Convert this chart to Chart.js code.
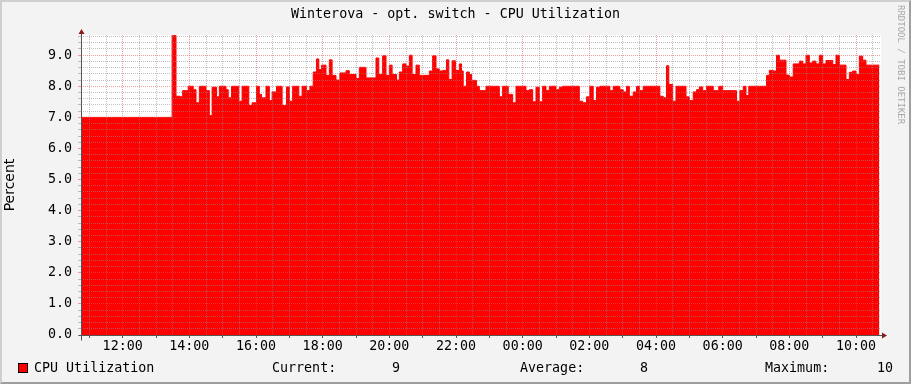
<!DOCTYPE html>
<html>
<head>
<meta charset="utf-8">
<script src="https://cdn.jsdelivr.net/npm/chart.js@4.4.1/dist/chart.umd.min.js"></script>
<style>
  html, body { margin: 0; padding: 0; background: #f3f3f3; }
  #wrap { position: relative; width: 911px; height: 384px; overflow: hidden; }
  #frame { position: absolute; left: 0; top: 0; width: 911px; height: 384px; box-sizing: border-box;
           border-top: 2px solid #cfcfcf; border-left: 2px solid #cfcfcf;
           border-right: 2px solid #9e9e9e; border-bottom: 2px solid #9e9e9e; }
  #chart { position: absolute; left: 0; top: 0; }
  #title { position: absolute; left: 0; top: 6px; width: 911px; text-align: center;
           font: 13.33px/16px "DejaVu Sans Mono", monospace; color: #000; white-space: pre; }
  .lg { position: absolute; top: 360px; font: 13.33px/16px "DejaVu Sans Mono", monospace; color: #000; white-space: pre; }
  #swatch { position: absolute; left: 18px; top: 363px; width: 8px; height: 8px; background: #ff0000; border: 1px solid #000; }
  #mark { position: absolute; left: 896px; top: 5px; writing-mode: vertical-rl; font: 9px "DejaVu Sans Mono", monospace; color: #a8a8a8; }
</style>
</head>
<body>
<div id="wrap">
  <div id="frame"></div>
  <canvas id="chart" width="911" height="384"></canvas>
  <div id="title">Winterova - opt. switch - CPU Utilization</div>
  <div id="swatch"></div>
  <div class="lg" style="left:34px">CPU Utilization</div>
  <div class="lg" style="left:272px">Current:</div>
  <div class="lg" id="cur" style="left:392px"></div>
  <div class="lg" style="left:520px">Average:</div>
  <div class="lg" id="avg" style="left:640px"></div>
  <div class="lg" style="left:765px">Maximum:</div>
  <div class="lg" id="max" style="left:877px"></div>
  <div id="mark">RRDTOOL / TOBI OETIKER</div>
</div>
<script>
// graph starts at 10:45, one day wide; times are minutes from start
var startClock = 10 * 60 + 45;
var spanMinutes = 1440;

// minute (from start) at which each new value begins
var times = [
	0, 164, 171, 178, 183, 193, 202, 207, 213, 225, 231, 236, 244, 249, 261, 265, 271, 284, 290, 302,
	308, 316, 321, 325, 333, 339, 344, 352, 362, 370, 375, 381, 392, 398, 406, 412, 418, 424, 428, 433,
	441, 447, 452, 459, 466, 477, 483, 495, 501, 513, 531, 536, 543, 549, 555, 560, 568, 573, 579, 585,
	591, 596, 603, 609, 627, 633, 639, 645, 651, 658, 662, 668, 674, 681, 685, 688, 694, 699, 703, 712,
	717, 729, 753, 759, 769, 777, 783, 801, 807, 813, 819, 825, 831, 837, 843, 855, 861, 867, 897, 903,
	910, 916, 922, 928, 934, 952, 958, 970, 976, 982, 987, 994, 1000, 1005, 1012, 1042, 1048, 1054, 1058, 1065,
	1071, 1089, 1095, 1102, 1108, 1113, 1119, 1126, 1138, 1148, 1155, 1180, 1186, 1192, 1197, 1202, 1234, 1239, 1246, 1252,
	1257, 1269, 1275, 1282, 1293, 1299, 1305, 1311, 1317, 1323, 1329, 1335, 1341, 1353, 1359, 1365, 1377, 1383, 1389, 1395,
	1401, 1407, 1413, 1437
];

// CPU utilization in percent
var cpu = [
	7.00, 9.64, 7.68, 7.66, 7.86, 8.00, 7.89, 7.47, 8.00, 7.86, 7.06, 7.97, 7.66, 8.00, 7.89, 7.63, 8.00, 7.52, 8.00, 7.38,
	7.47, 8.00, 7.74, 7.63, 8.00, 7.54, 7.82, 8.00, 7.38, 7.98, 7.52, 8.00, 7.68, 8.00, 7.86, 8.00, 8.46, 8.88, 8.54, 8.68,
	8.35, 8.85, 8.35, 8.20, 8.43, 8.50, 8.38, 8.25, 8.61, 8.27, 8.91, 8.38, 8.98, 8.35, 8.68, 8.38, 8.20, 8.46, 8.72, 8.65,
	9.00, 8.38, 8.68, 8.35, 8.49, 8.98, 8.56, 8.49, 8.51, 8.85, 8.22, 8.82, 8.51, 8.72, 8.49, 8.00, 8.46, 8.38, 8.19, 8.00,
	7.86, 8.00, 7.66, 8.00, 7.74, 7.47, 8.00, 7.86, 7.89, 7.50, 7.97, 7.50, 8.00, 7.86, 8.00, 7.89, 7.97, 8.00, 7.52, 7.47,
	7.66, 8.00, 7.54, 7.97, 8.00, 7.86, 8.00, 7.89, 7.82, 8.00, 7.68, 7.82, 8.00, 7.86, 8.00, 7.68, 7.63, 8.66, 8.06, 7.52,
	8.00, 7.66, 7.54, 7.82, 7.89, 7.98, 7.86, 8.00, 7.86, 8.00, 7.86, 7.52, 7.86, 8.00, 7.70, 8.00, 8.35, 8.51, 8.49, 9.00,
	8.84, 8.36, 8.30, 8.72, 8.81, 8.72, 9.00, 8.75, 8.81, 8.72, 9.00, 8.72, 8.83, 8.70, 9.00, 8.68, 8.22, 8.45, 8.49, 8.38,
	8.97, 8.84, 8.68, 8.68
];

var yMax = 9.65;

var MINOR = 'rgba(140,140,140,0.55)';
var MAJOR = 'rgba(225,80,80,0.55)';
var AXIS = '#555555';
var ARROW = '#8b1a1a';
var FONT = 'DejaVu Sans Mono';

// legend numbers
var area = 0;
for (var i = 0; i < times.length - 1; i++) area += cpu[i] * (times[i + 1] - times[i]);
document.getElementById('cur').textContent = cpu[cpu.length - 1].toFixed(0);
document.getElementById('avg').textContent = (area / (times[times.length - 1] - times[0])).toFixed(0);
document.getElementById('max').textContent = Math.max.apply(null, cpu).toFixed(0);

var xGrid = [];
for (var t = 15; t <= spanMinutes; t += 30) xGrid.push(t);
var yGrid = [];
for (var k = 0; k * 0.2 <= yMax; k++) yGrid.push(Math.round(k * 2) / 10);

function isHour2(v) { return (startClock + v) % 120 === 0; }
function isHour(v) { return (startClock + v) % 60 === 0; }
function isWhole(v) { return Math.abs(v - Math.round(v)) < 1e-6; }

var canvasBg = {
	id: 'canvasBg',
	beforeDraw: function(chart) {
		var a = chart.chartArea, ctx = chart.ctx;
		ctx.save();
		ctx.fillStyle = '#ffffff';
		ctx.fillRect(a.left, a.top, a.right - a.left, a.bottom - a.top);
		ctx.restore();
	}
};

var axes = {
	id: 'axes',
	afterDraw: function(chart) {
		var a = chart.chartArea, ctx = chart.ctx;
		var x0 = Math.round(a.left) + 0.5, y0 = Math.round(a.bottom) + 0.5;
		ctx.save();
		ctx.strokeStyle = AXIS;
		ctx.lineWidth = 1;
		ctx.beginPath();
		ctx.moveTo(x0, y0 + 5);
		ctx.lineTo(x0, a.top - 3);
		ctx.moveTo(x0 - 3, y0);
		ctx.lineTo(a.right + 3, y0);
		ctx.stroke();
		ctx.fillStyle = ARROW;
		ctx.beginPath();
		ctx.moveTo(x0 - 3, a.top - 1);
		ctx.lineTo(x0 + 3, a.top - 1);
		ctx.lineTo(x0, a.top - 6);
		ctx.closePath();
		ctx.fill();
		ctx.beginPath();
		ctx.moveTo(a.right + 1, y0 - 3);
		ctx.lineTo(a.right + 1, y0 + 3);
		ctx.lineTo(a.right + 6, y0);
		ctx.closePath();
		ctx.fill();
		ctx.restore();
	}
};

var ctx = document.getElementById('chart').getContext('2d');
var chart = new Chart(ctx, {
	type : 'line',
	data : {
		datasets : [ {
			label : 'CPU Utilization',
			data : times.map(function(t, i) { return { x : t, y : cpu[i] }; }),
			stepped : 'before',
			fill : 'origin',
			backgroundColor : '#ff0000',
			borderColor : '#ff0000',
			borderWidth : 1,
			pointRadius : 0,
			tension : 0
		} ]
	},
	options : {
		responsive : false,
		animation : false,
		devicePixelRatio : 1,
		layout : { padding : { left : 2, right : 30, top : 35, bottom : 0 } },
		plugins : {
			legend : { display : false },
			tooltip : { enabled : false },
			title : { display : false }
		},
		scales : {
			x : {
				type : 'linear',
				min : 0,
				max : spanMinutes,
				afterBuildTicks : function(s) { s.ticks = xGrid.map(function(v) { return { value : v }; }); },
				afterFit : function(s) { s.height = 49; },
				grid : {
					z : 1,
					tickLength : 3,
					color : function(c) { return isHour2(c.tick.value) ? MAJOR : MINOR; },
					tickColor : function(c) { return isHour(c.tick.value) ? AXIS : 'rgba(0,0,0,0)'; }
				},
				border : { display : false, dash : [ 1, 1 ] },
				ticks : {
					autoSkip : false,
					maxRotation : 0,
					padding : 1,
					color : '#000',
					font : { family : FONT, size : 13.33 },
					callback : function(v) {
						if (!isHour2(v)) return '';
						var h = Math.floor(((startClock + v) % 1440) / 60);
						return (h < 10 ? '0' : '') + h + ':00';
					}
				}
			},
			y : {
				min : 0,
				max : yMax,
				afterBuildTicks : function(s) { s.ticks = yGrid.map(function(v) { return { value : v }; }); },
				afterFit : function(s) { s.width = 79; },
				grid : {
					z : 1,
					tickLength : 3,
					color : function(c) { return isWhole(c.tick.value) ? MAJOR : MINOR; },
					tickColor : function(c) { return isWhole(c.tick.value) ? MAJOR : MINOR; }
				},
				border : { display : false, dash : [ 1, 1 ] },
				title : {
					display : true,
					text : 'Percent',
					color : '#000',
					font : { family : 'DejaVu Sans', size : 14 },
					padding : 0
				},
				ticks : {
					autoSkip : false,
					padding : 6,
					color : '#000',
					font : { family : FONT, size : 13.33 },
					callback : function(v) { return isWhole(v) ? v.toFixed(1) : ''; }
				}
			}
		}
	},
	plugins : [ canvasBg, axes ]
});
</script>
</body>
</html>
